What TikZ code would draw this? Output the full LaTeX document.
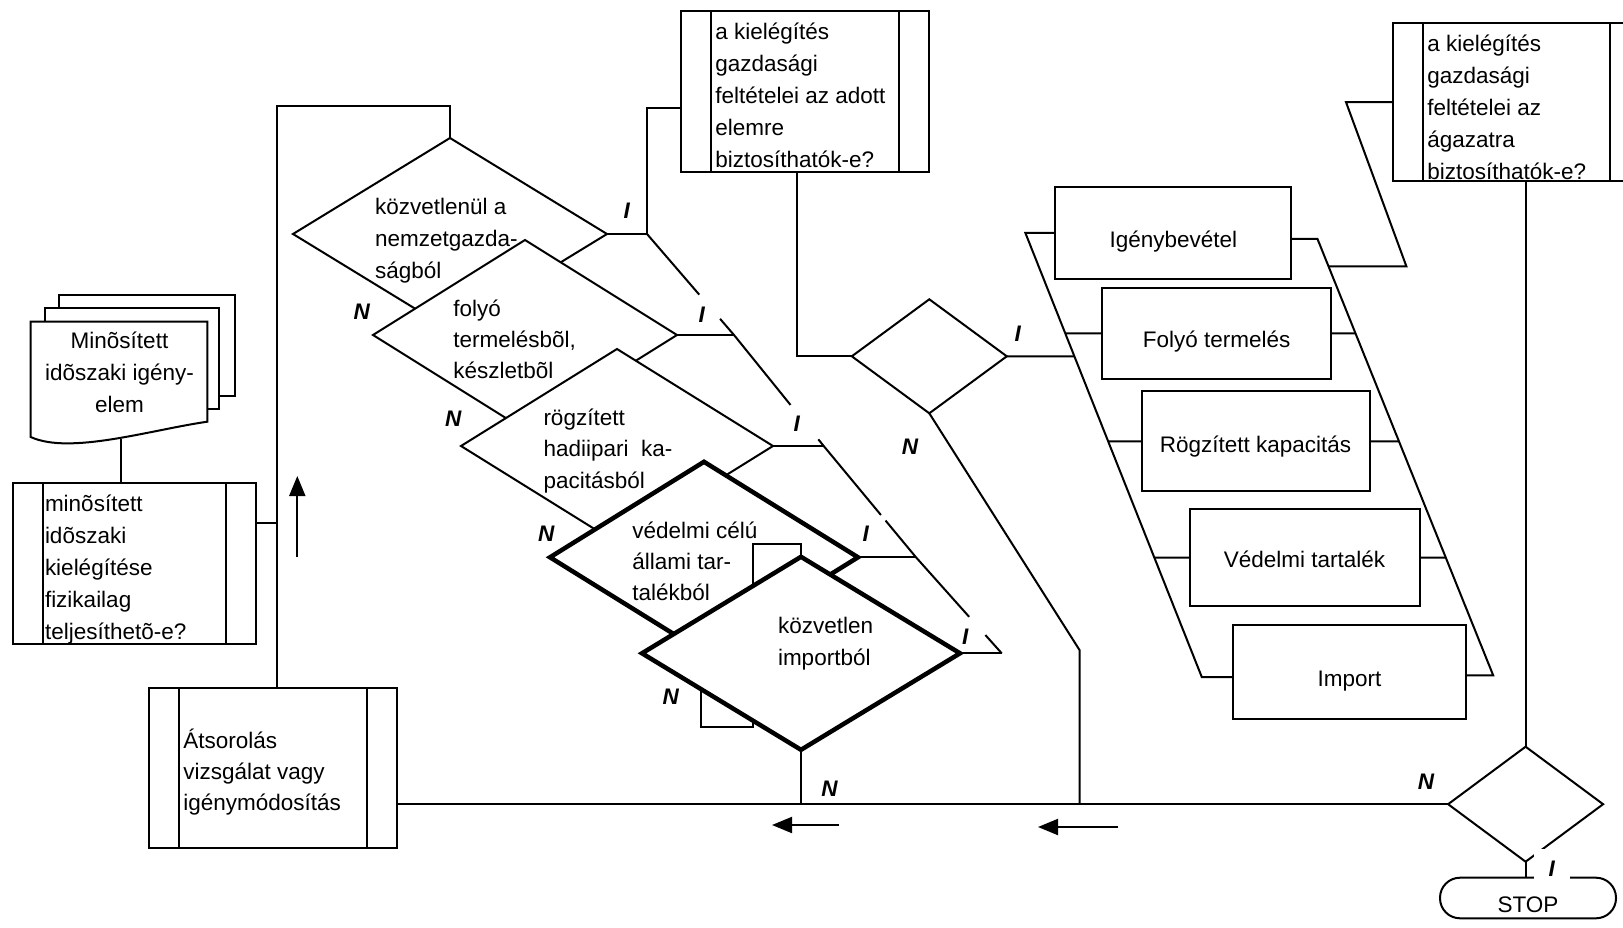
\documentclass[tikz,border=0pt]{standalone}
\usepackage{fontspec}
\setmainfont{Liberation Sans}
\usetikzlibrary{shapes.geometric,calc,arrows.meta}
\newcommand\lnstrut{\rule{0pt}{22pt}}
\begin{document}
\begin{tikzpicture}[x=1pt,y=-1pt,line width=2pt,
  every node/.style={inner sep=0pt,outer sep=0pt},
  txt/.style={font=\fontsize{22.5}{#1}\selectfont,align=left,anchor=north west},
  txt/.default=32,
  btxt/.style={font=\fontsize{22.5}{32}\selectfont,text height=#1,text depth=0pt},
  lab/.style={font=\fontsize{22.5}{27}\selectfont\bfseries\itshape},
  decis/.style 2 args={diamond,draw,fill=white,minimum width=#1,minimum height=#2},
  heavy/.style={line width=4.5pt},
  predef/.style 2 args={rectangle,draw,fill=white,minimum width=#1,minimum height=#2,
    path picture={\draw[line width=2pt]
      ([xshift=30pt]path picture bounding box.north west) -- ([xshift=30pt]path picture bounding box.south west)
      ([xshift=-30pt]path picture bounding box.north east) -- ([xshift=-30pt]path picture bounding box.south east);}},
  proc/.style 2 args={rectangle,draw,fill=white,minimum width=#1,minimum height=#2},
  flow/.style={-{Triangle[length=20pt,width=16pt]}},
]
\useasboundingbox (0,0) rectangle (1623,928);

% document stack
\draw[fill=white] (59,295) rectangle (235,395.7);
\draw[fill=white] (45,307.7) rectangle (219,409);
\draw[fill=white] (30.7,321.7) -- (207.3,321.7) -- (207.3,421.7) .. controls (150,430) and (70,455) .. (30.7,437) -- cycle;
\node[font=\fontsize{22.5}{32}\selectfont,align=center,anchor=north] (doc) at (119.5,326.3) {\lnstrut Minõsített\\idõszaki igény-\\elem};
\coordinate (docb) at (120.7,438.5);

% predefined process boxes
\node[predef={243pt}{161pt}] (pb1) at (134.2,563.5) {};
\node[txt] (pb1t) at (45,489.7) {\lnstrut minõsített\\idõszaki\\kielégítése\\fizikailag\\teljesíthetõ-e?};
\node[predef={248.6pt}{160.7pt}] (tb1) at (805,91.35) {};
\node[txt] (tb1t) at (715.3,17.5) {\lnstrut a kielégítés\\gazdasági\\feltételei az adott\\elemre\\biztosíthatók-e?};
\node[predef={247.3pt}{157.7pt}] (tb2) at (1516.35,102.15) {};
\node[txt] (tb2t) at (1427.3,29.7) {\lnstrut a kielégítés\\gazdasági\\feltételei az\\ágazatra\\biztosíthatók-e?};
\node[predef={248.3pt}{160.6pt}] (ats) at (273.15,768) {};
\node[txt=31] (atst) at (183.3,726.3) {\lnstrut Átsorolás\\vizsgálat vagy\\igénymódosítás};

% right boxes
\node[proc={236pt}{91.8pt},btxt=29.8pt] (r1) at (1173.4,233) {Igénybevétel};
\node[proc={229.6pt}{91pt},btxt=28.2pt] (r2) at (1216.6,333.4) {Folyó termelés};
\node[proc={228pt}{100pt},btxt=21.4pt] (r3) at (1255.5,441.4) {Rögzített kapacitás};
\node[proc={230pt}{96.4pt},btxt=19.2pt] (r4) at (1304.5,557.5) {Védelmi tartalék};
\node[proc={233pt}{93.5pt},btxt=28.2pt] (r5) at (1349.6,672.2) {Import};

% diamond cascade
\node[decis={314pt}{192pt}] (d1) at (450,234) {};
\node[txt] (d1t) at (375,192) {\lnstrut közvetlenül a\\nemzetgazda-\\ságból};
\node[decis={304pt}{190pt}] (d2) at (525,335) {};
\node[txt=31.2] (d2t) at (453.3,294) {\lnstrut folyó\\termelésbõl,\\készletbõl};
\node[decis={312pt}{194pt}] (d3) at (617,446) {};
\node[txt=31.7] (d3t) at (543.5,403) {\lnstrut rögzített\\hadiipari\ \ ka-\\pacitásból};
\node[decis={308pt}{191pt},heavy] (d4) at (704,557.3) {};
\node[txt=31] (d4t) at (632.4,516.3) {\lnstrut védelmi célú\\állami tar-\\talékból};
\coordinate (c1) at (753,544);
\coordinate (c2) at (701.3,726.7);
\coordinate (c3) at (753,726.7);
\coordinate (d5c) at (801,653.3);
\draw (c1 |- d5c) -- (c1) -- (c1 -| d5c) -- (d5c |- 0,556.8);
\draw (c2 |- d5c) -- (c2) -- (c3) -- (c3 |- d5c);
\node[decis={318pt}{193pt},heavy] (d5) at (d5c) {};
\node[txt] (d5t) at (778,611.3) {\lnstrut közvetlen\\importból};

\node[decis={155pt}{114pt}] (d6) at (929.3,356.3) {};
\node[decis={155pt}{115pt}] (d7) at (1525.6,804.2) {};
\node[draw,rounded corners=20pt,minimum width=176pt,minimum height=40.6pt,btxt=28pt] (stop) at (1528,898) {STOP};

% bus of the cascade
\coordinate (b1) at (647,234);
\coordinate (b2) at (734,335);
\coordinate (b3) at (823.7,446);
\coordinate (b4) at (916,557.3);
\coordinate (b5) at (1001.7,653.3);
\draw (b1) -- ($(b1)!0.6!(b2)$) ($(b1)!0.84!(b2)$) -- (b2) -- ($(b2)!0.63!(b3)$)
      ($(b2)!0.94!(b3)$) -- (b3) -- ($(b3)!0.62!(b4)$) ($(b3)!0.67!(b4)$) -- (b4)
      -- ($(b4)!0.62!(b5)$) ($(b4)!0.81!(b5)$) -- (b5);
\draw (d1.east) -- (b1);
\draw (d2.east) -- (b2);
\draw (d3.east) -- (b3);
\draw (d4.east) -- (b4);
\draw (d5.east) -- (b5);
\coordinate (t2) at (647,107.7);
\draw (b1) -- (t2) -- (t2 -| tb1.west);

% left loop
\coordinate (lt) at (277,106);
\draw (lt |- ats.north) -- (lt) -- (lt -| d1.north) -- (d1.north);
\coordinate (t1) at (277,523.3);
\draw (t1 -| pb1.east) -- (t1);
\draw (docb) -- (docb |- pb1.north);
\draw[flow] (297.3,557) -- (297.3,476);

% upper box to D6
\coordinate (t3) at (797.3,356.3);
\draw (t3 |- tb1.south) -- (t3) -- (d6.west);
\coordinate (lb1) at (1025.4,233);
\coordinate (lb2) at (1201.8,677.1);
\draw (d6.east) -- (intersection of lb1--lb2 and d6.west--d6.east);
\coordinate (k1) at (1079.5,650);
\draw (d6.south) -- (k1) -- (k1 |- d7.west);

% main return line
\draw (d7.west) -- (d7.west -| ats.east);
\draw (d5.south) -- (d5.south |- d7.west);
\draw (d7.south) -- (d7.south |- stop.north);
\draw (d7.north |- tb2.south) -- (d7.north);
\draw[flow] (839,825) -- (772,825);
\draw[flow] (1118,827) -- (1038,827);

% right group buses
\draw (r1.west) -- (lb1) -- (lb2) -- (lb2 -| r5.west);
\draw (r2.west) -- (intersection of lb1--lb2 and r2.west--r2.east);
\draw (r3.west) -- (intersection of lb1--lb2 and r3.west--r3.east);
\draw (r4.west) -- (intersection of lb1--lb2 and r4.west--r4.east);
\coordinate (rb1) at (1317.5,239);
\coordinate (rb2) at (1493.2,675.4);
\draw (r1.east |- rb1) -- (rb1) -- (rb2) -- (rb2 -| r5.east);
\draw (r2.east) -- (intersection of rb1--rb2 and r2.west--r2.east);
\draw (r3.east) -- (intersection of rb1--rb2 and r3.west--r3.east);
\draw (r4.east) -- (intersection of rb1--rb2 and r4.west--r4.east);
\coordinate (q1) at (1346,102.15);
\coordinate (q2) at (1406.4,266.4);
\coordinate (q3) at (1300,266.4);
\draw (tb2.west) -- (q1) -- (q2) -- (intersection of rb1--rb2 and q2--q3);

% labels
\node[lab] (i1) at (626.7,210.7) {I};
\node[lab] (i2) at (701.7,315) {I};
\node[lab] (i3) at (796.7,423.3) {I};
\node[lab] (i4) at (865.8,533.3) {I};
\node[lab] (i5) at (965.3,636.7) {I};
\node[lab] (i6) at (1017.7,333.3) {I};
\node[lab,fill=white,inner xsep=15pt,inner ysep=12pt] (i7) at (1551.7,868.3) {I};
\node[lab] (n1) at (361.7,311.7) {N};
\node[lab] (n2) at (453.3,418.3) {N};
\node[lab] (n3) at (546.3,533.3) {N};
\node[lab] (n4) at (670.7,696.7) {N};
\node[lab] (n5) at (829.5,788.3) {N};
\node[lab] (n6) at (910,446.7) {N};
\node[lab] (n7) at (1426,781.7) {N};
\end{tikzpicture}
\end{document}
